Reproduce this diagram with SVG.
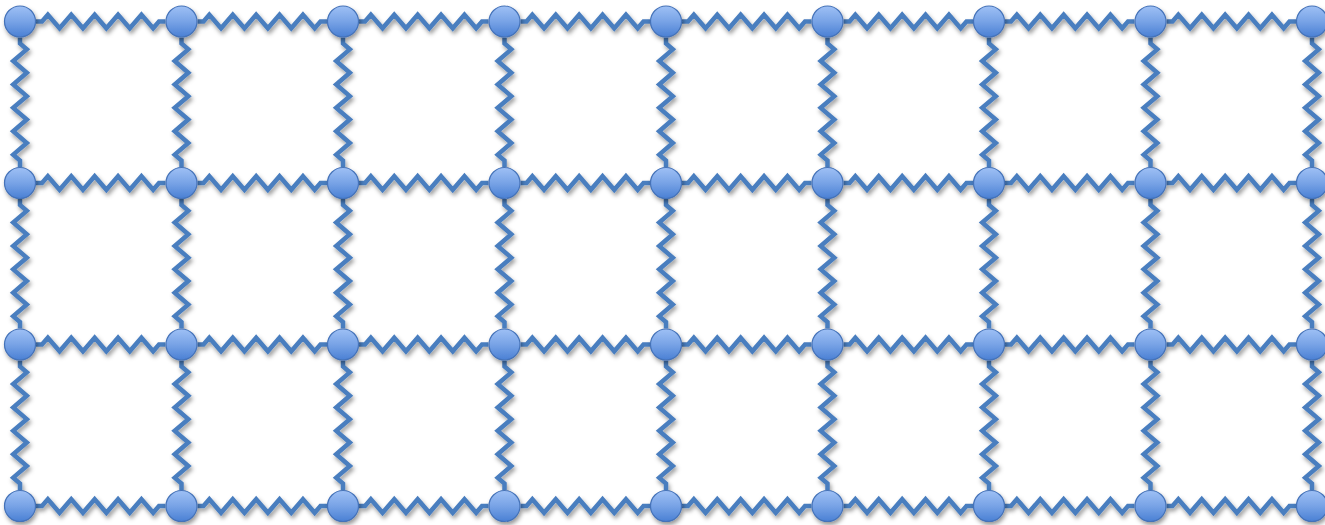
<svg xmlns="http://www.w3.org/2000/svg" xmlns:xlink="http://www.w3.org/1999/xlink" width="1325" height="525" viewBox="0 0 1325 525">
<style>
.spring{fill:none;stroke:#4A7EBF;stroke-width:4.5;stroke-linejoin:miter;stroke-miterlimit:10}
.node{fill:url(#ng);stroke:#4472B8;stroke-width:1.2}
</style>
<defs>
<linearGradient id="ng" x1="0" y1="0" x2="0" y2="1">
<stop offset="0" stop-color="#9EC0F5"/>
<stop offset="0.5" stop-color="#78A3E6"/>
<stop offset="1" stop-color="#4A80D4"/>
</linearGradient>
<filter id="sh" x="-10%" y="-10%" width="120%" height="130%">
<feDropShadow dx="1.5" dy="3" stdDeviation="2" flood-color="#000" flood-opacity="0.4"/>
</filter>
<path id="hs" class="spring" d="M16,0 H22 L27.85,-6.8 L39.55,6.8 L51.25,-6.8 L62.95,6.8 L74.65,-6.8 L86.35,6.8 L98.05,-6.8 L109.75,6.8 L121.45,-6.8 L133.15,6.8 L139,0 H145.5"/>
<path id="vs" class="spring" d="M0,16 V22 L6.8,27.85 L-6.8,39.55 L6.8,51.25 L-6.8,62.95 L6.8,74.65 L-6.8,86.35 L6.8,98.05 L-6.8,109.75 L6.8,121.45 L-6.8,133.15 L0,139 V145.5"/>
</defs>
<rect width="1325" height="525" fill="#fff"/>
<g id="connectors" filter="url(#sh)">
<use href="#hs" x="20" y="21.5"/><use href="#hs" x="181.5" y="21.5"/><use href="#hs" x="343" y="21.5"/><use href="#hs" x="504.5" y="21.5"/><use href="#hs" x="666" y="21.5"/><use href="#hs" x="827.5" y="21.5"/><use href="#hs" x="989" y="21.5"/><use href="#hs" x="1150.5" y="21.5"/>
<use href="#hs" x="20" y="183"/><use href="#hs" x="181.5" y="183"/><use href="#hs" x="343" y="183"/><use href="#hs" x="504.5" y="183"/><use href="#hs" x="666" y="183"/><use href="#hs" x="827.5" y="183"/><use href="#hs" x="989" y="183"/><use href="#hs" x="1150.5" y="183"/>
<use href="#hs" x="20" y="344.5"/><use href="#hs" x="181.5" y="344.5"/><use href="#hs" x="343" y="344.5"/><use href="#hs" x="504.5" y="344.5"/><use href="#hs" x="666" y="344.5"/><use href="#hs" x="827.5" y="344.5"/><use href="#hs" x="989" y="344.5"/><use href="#hs" x="1150.5" y="344.5"/>
<use href="#hs" x="20" y="506"/><use href="#hs" x="181.5" y="506"/><use href="#hs" x="343" y="506"/><use href="#hs" x="504.5" y="506"/><use href="#hs" x="666" y="506"/><use href="#hs" x="827.5" y="506"/><use href="#hs" x="989" y="506"/><use href="#hs" x="1150.5" y="506"/>
<use href="#vs" x="20" y="21.5"/><use href="#vs" x="20" y="183"/><use href="#vs" x="20" y="344.5"/>
<use href="#vs" x="181.5" y="21.5"/><use href="#vs" x="181.5" y="183"/><use href="#vs" x="181.5" y="344.5"/>
<use href="#vs" x="343" y="21.5"/><use href="#vs" x="343" y="183"/><use href="#vs" x="343" y="344.5"/>
<use href="#vs" x="504.5" y="21.5"/><use href="#vs" x="504.5" y="183"/><use href="#vs" x="504.5" y="344.5"/>
<use href="#vs" x="666" y="21.5"/><use href="#vs" x="666" y="183"/><use href="#vs" x="666" y="344.5"/>
<use href="#vs" x="827.5" y="21.5"/><use href="#vs" x="827.5" y="183"/><use href="#vs" x="827.5" y="344.5"/>
<use href="#vs" x="989" y="21.5"/><use href="#vs" x="989" y="183"/><use href="#vs" x="989" y="344.5"/>
<use href="#vs" x="1150.5" y="21.5"/><use href="#vs" x="1150.5" y="183"/><use href="#vs" x="1150.5" y="344.5"/>
<use href="#vs" x="1312" y="21.5"/><use href="#vs" x="1312" y="183"/><use href="#vs" x="1312" y="344.5"/>
</g>
<g id="nodes" filter="url(#sh)">
<g id="n0-0"><circle class="node" cx="20" cy="21.5" r="15.5"/></g>
<g id="n0-1"><circle class="node" cx="181.5" cy="21.5" r="15.5"/></g>
<g id="n0-2"><circle class="node" cx="343" cy="21.5" r="15.5"/></g>
<g id="n0-3"><circle class="node" cx="504.5" cy="21.5" r="15.5"/></g>
<g id="n0-4"><circle class="node" cx="666" cy="21.5" r="15.5"/></g>
<g id="n0-5"><circle class="node" cx="827.5" cy="21.5" r="15.5"/></g>
<g id="n0-6"><circle class="node" cx="989" cy="21.5" r="15.5"/></g>
<g id="n0-7"><circle class="node" cx="1150.5" cy="21.5" r="15.5"/></g>
<g id="n0-8"><circle class="node" cx="1312" cy="21.5" r="15.5"/></g>
<g id="n1-0"><circle class="node" cx="20" cy="183" r="15.5"/></g>
<g id="n1-1"><circle class="node" cx="181.5" cy="183" r="15.5"/></g>
<g id="n1-2"><circle class="node" cx="343" cy="183" r="15.5"/></g>
<g id="n1-3"><circle class="node" cx="504.5" cy="183" r="15.5"/></g>
<g id="n1-4"><circle class="node" cx="666" cy="183" r="15.5"/></g>
<g id="n1-5"><circle class="node" cx="827.5" cy="183" r="15.5"/></g>
<g id="n1-6"><circle class="node" cx="989" cy="183" r="15.5"/></g>
<g id="n1-7"><circle class="node" cx="1150.5" cy="183" r="15.5"/></g>
<g id="n1-8"><circle class="node" cx="1312" cy="183" r="15.5"/></g>
<g id="n2-0"><circle class="node" cx="20" cy="344.5" r="15.5"/></g>
<g id="n2-1"><circle class="node" cx="181.5" cy="344.5" r="15.5"/></g>
<g id="n2-2"><circle class="node" cx="343" cy="344.5" r="15.5"/></g>
<g id="n2-3"><circle class="node" cx="504.5" cy="344.5" r="15.5"/></g>
<g id="n2-4"><circle class="node" cx="666" cy="344.5" r="15.5"/></g>
<g id="n2-5"><circle class="node" cx="827.5" cy="344.5" r="15.5"/></g>
<g id="n2-6"><circle class="node" cx="989" cy="344.5" r="15.5"/></g>
<g id="n2-7"><circle class="node" cx="1150.5" cy="344.5" r="15.5"/></g>
<g id="n2-8"><circle class="node" cx="1312" cy="344.5" r="15.5"/></g>
<g id="n3-0"><circle class="node" cx="20" cy="506" r="15.5"/></g>
<g id="n3-1"><circle class="node" cx="181.5" cy="506" r="15.5"/></g>
<g id="n3-2"><circle class="node" cx="343" cy="506" r="15.5"/></g>
<g id="n3-3"><circle class="node" cx="504.5" cy="506" r="15.5"/></g>
<g id="n3-4"><circle class="node" cx="666" cy="506" r="15.5"/></g>
<g id="n3-5"><circle class="node" cx="827.5" cy="506" r="15.5"/></g>
<g id="n3-6"><circle class="node" cx="989" cy="506" r="15.5"/></g>
<g id="n3-7"><circle class="node" cx="1150.5" cy="506" r="15.5"/></g>
<g id="n3-8"><circle class="node" cx="1312" cy="506" r="15.5"/></g>
</g>
</svg>
